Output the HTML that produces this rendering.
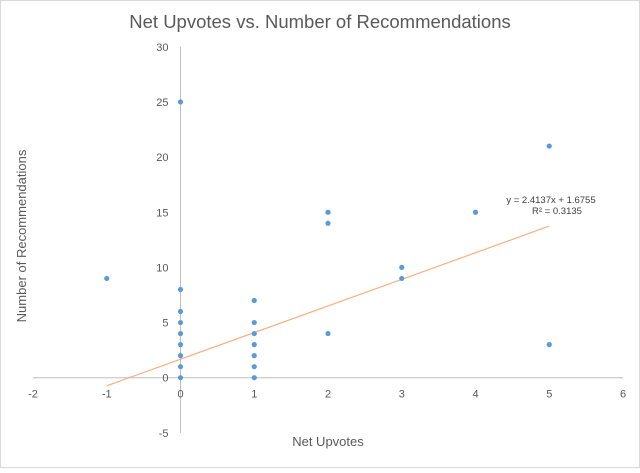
<!DOCTYPE html>
<html><head><meta charset="utf-8"><style>
body{margin:0;background:#fff;font-family:"Liberation Sans",sans-serif}
svg text{font-family:"Liberation Sans",sans-serif}
</style></head><body>
<svg width="640" height="468" id="c">
<rect x="0.5" y="0.5" width="639" height="467" fill="#fff" stroke="#d9d9d9"/>
<text x="320" y="28" text-anchor="middle" font-size="18.5" fill="#595959">Net Upvotes vs. Number of Recommendations</text>
<text x="328" y="446" text-anchor="middle" font-size="13" fill="#595959">Net Upvotes</text>
<text transform="translate(26,236) rotate(-90)" text-anchor="middle" font-size="13" fill="#595959">Number of Recommendations</text>
<text x="551" y="203" text-anchor="middle" font-size="9.5" fill="#404040">y = 2.4137x + 1.6755</text>
<text x="557" y="214" text-anchor="middle" font-size="9.5" fill="#404040">R² = 0.3135</text>
</svg>
<script>
const xs=[-1,0,0,0,0,0,0,0,0,0,1,1,1,1,1,1,1,2,2,2,3,3,4,5,5];
const ys=[9,25,8,6,5,4,3,2,1,0,7,5,4,3,2,1,0,15,14,4,10,9,15,21,3];
const xTicks=[-2,-1,0,1,2,3,4,5,6];
const yTicks=[-5,0,5,10,15,20,25,30];
const slope=2.4137, intercept=1.6755;
const X=v=>180.5+(v)*73.75;
const Y=v=>377.7-v*11.03;
const s=document.getElementById('c'),NS='http://www.w3.org/2000/svg';
function mk(t,a){const e=document.createElementNS(NS,t);for(const k in a)e.setAttribute(k,a[k]);s.appendChild(e);return e;}
let e=mk('line',{x1:X(-2),x2:X(6),y1:Y(0),y2:Y(0),stroke:'#bfbfbf','stroke-width':1});


e=mk('line',{x1:X(0),x2:X(0),y1:Y(30),y2:Y(-5),stroke:'#bfbfbf','stroke-width':1});


xTicks.forEach(t=>{const el=mk('text',{x:X(t),y:Y(0)+20,'text-anchor':'middle','font-size':11,fill:'#595959'});el.textContent=t;

});
yTicks.forEach(t=>{const el=mk('text',{x:X(0)-12,y:Y(t)+4,'text-anchor':'end','font-size':11,fill:'#595959'});el.textContent=t;

});
const tl=mk('line',{x1:X(-1),y1:Y(slope*-1+intercept),x2:X(5),y2:Y(slope*5+intercept),stroke:'#f4b183','stroke-width':1.2});


xs.forEach((x,i)=>{const p=mk('circle',{cx:X(x),cy:Y(ys[i]),r:2.6,fill:'#5b9bd5'});

});
</script>
</body></html>
